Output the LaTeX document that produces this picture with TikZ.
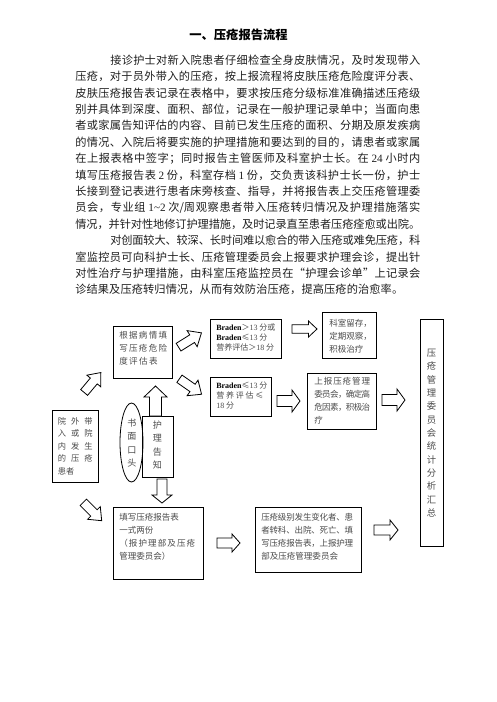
\documentclass[tikz,border=0pt]{standalone}
\usepackage{fontspec}
\setmainfont{Liberation Serif}
\newfontfamily\cjk{Noto Sans CJK SC}
\newfontfamily\lat{Liberation Serif}
\usetikzlibrary{shapes.geometric}
% inter-character glue for CJK so lines can be justified
\XeTeXinterchartokenstate=1
\newcount\cjkcc
\cjkcc="4E00
\loop \XeTeXcharclass\cjkcc=1 \advance\cjkcc by 1 \ifnum\cjkcc<"A000 \repeat
\XeTeXcharclass"FF0C=3 \XeTeXcharclass"3001=3 \XeTeXcharclass"3002=3
\XeTeXcharclass"FF1B=3 \XeTeXcharclass"FF09=3 \XeTeXcharclass"201D=3
\XeTeXcharclass"FF08=2 \XeTeXcharclass"201C=2
\XeTeXcharclass"FF1E=1 \XeTeXcharclass"2264=1
\newcommand\cjkglue{\hskip 0pt plus 3pt minus 0.6pt\relax}
\XeTeXinterchartoks 1 1 = {\cjkglue}
\XeTeXinterchartoks 1 3 = {\cjkglue}
\XeTeXinterchartoks 3 1 = {\cjkglue}
\XeTeXinterchartoks 2 1 = {\cjkglue}
\XeTeXinterchartoks 1 2 = {\cjkglue}
\XeTeXinterchartoks 3 2 = {\cjkglue}
\XeTeXinterchartoks 3 3 = {\cjkglue}
\newcommand\bodyf{\cjk\fontsize{8.4}{12.3}\selectfont}
\newcommand\boxf{\cjk\fontsize{6.4}{9.75}\selectfont}
\newcommand\jl[2]{\hbox to #1{#2}}
\newcommand\nl[1]{\hbox{#1}}
\newcommand\blockarr[7]{%
  \draw[arr, shift={(#1,#2)}, rotate=#3]
    (-#4/2,-#5) -- (#4/2-#7,-#5) -- (#4/2-#7,-#6) -- (#4/2,0)
    -- (#4/2-#7,#6) -- (#4/2-#7,#5) -- (-#4/2,#5) -- cycle;}
\begin{document}
\begin{tikzpicture}[x=0.75pt,y=-0.75pt,
  bx/.style 2 args={draw=black, line width=0.6pt, minimum width=#1, minimum height=#2, inner sep=0pt, outer sep=0pt},
  bt/.style={font=\boxf, text=black!70, inner sep=0pt, anchor=base west},
  vt/.style={inner sep=0pt, anchor=base, text=black!70},
  arr/.style={draw=black, line width=0.6pt, fill=white, line join=miter}]
\fill[white] (0,0) rectangle (496,702);
\useasboundingbox (0,0) rectangle (496,702);

% title
\node[font=\cjk\bfseries\fontsize{9.2}{11}\selectfont, text=black, inner sep=0pt] (title) at (238.5,35) {一、压疮报告流程};

% body paragraph
\node[font=\bodyf, text=black!88, inner sep=0pt, anchor=base west] (para) at (75,64.3) {\vtop{\baselineskip=12.3pt
\jl{258.75pt}{\kern26.25pt 接诊护士对新入院患者仔细检查全身皮肤情况，及时发现带入}
\jl{258.75pt}{压疮，对于员外带入的压疮，按上报流程将皮肤压疮危险度评分表、}
\jl{258.75pt}{皮肤压疮报告表记录在表格中，要求按压疮分级标准准确描述压疮级}
\jl{258.75pt}{别并具体到深度、面积、部位，记录在一般护理记录单中；当面向患}
\jl{258.75pt}{者或家属告知评估的内容、目前已发生压疮的面积、分期及原发疾病}
\jl{258.75pt}{的情况、入院后将要实施的护理措施和要达到的目的，请患者或家属}
\jl{258.75pt}{在上报表格中签字；同时报告主管医师及科室护士长。在 {\lat 24} 小时内}
\jl{258.75pt}{填写压疮报告表 {\lat 2} 份，科室存档 {\lat 1} 份，交负责该科护士长一份，护士}
\jl{258.75pt}{长接到登记表进行患者床旁核查、指导，并将报告表上交压疮管理委}
\jl{258.75pt}{员会，专业组 {\lat 1\textasciitilde2} 次/周观察患者带入压疮转归情况及护理措施落实}
\jl{258.75pt}{情况，并针对性地修订护理措施，及时记录直至患者压疮痊愈或出院。}
\jl{258.75pt}{\kern26.25pt 对创面较大、较深、长时间难以愈合的带入压疮或难免压疮，科}
\jl{258.75pt}{室监控员可向科护士长、压疮管理委员会上报要求护理会诊，提出针}
\jl{258.75pt}{对性治疗与护理措施，由科室压疮监控员在“护理会诊单”上记录会}
\jl{246pt}{诊结果及压疮转归情况，从而有效防治压疮，提高压疮的治愈率。}}};

% boxes
\node[bx={44.25pt}{39pt}] (evalbox) at (142.5,352) {};
\node[bx={53.25pt}{29.25pt}] (bradhi) at (245.5,338.5) {};
\node[bx={40.5pt}{34.5pt}] (keep) at (349,335) {};
\node[bx={45.75pt}{29.25pt}] (bradlo) at (240.5,396.5) {};
\node[bx={51.75pt}{42pt}] (report) at (341.5,401) {};
\node[bx={17.25pt}{170.25pt}] (committee) at (431.5,432.5) {};
\node[bx={23.25pt}{45.75pt}] (notify) at (157.5,446.5) {};
\node[bx={34.5pt}{54pt}] (patient) at (75,446) {};
\node[bx={67.5pt}{54pt}] (form) at (158,543) {};
\node[bx={79.5pt}{48.75pt}] (change) at (308,539.5) {};
\node[draw=black, line width=0.6pt, ellipse, minimum width=17.25pt, minimum height=59.25pt, inner sep=0pt] (oral) at (131.5,442.5) {};

% box texts
\node[bt] (tA) at (119,338.2) {\vtop{\baselineskip=9.75pt
 \jl{36pt}{根据病情填}\jl{36pt}{写压疮危险}\jl{28.8pt}{度评估表}}};
\node[bt, font=\cjk\fontsize{6}{7.5}\selectfont] (tB) at (216,330) {\vtop{\baselineskip=7.5pt
 \nl{{\lat\bfseries\color{black}Braden}＞{\lat 13} 分或}
 \nl{{\lat\bfseries\color{black}Braden}≤{\lat 13} 分}
 \nl{营养评估＞{\lat 18} 分}}};
\node[bt] (tC) at (329,326.2) {\vtop{\baselineskip=9.75pt
 \nl{科室留存，}\nl{定期观察，}\nl{积极治疗}}};
\node[bt, font=\cjk\fontsize{6}{7.5}\selectfont] (tD) at (216,388) {\vtop{\baselineskip=7.5pt
 \nl{{\lat\bfseries\color{black}Braden}≤{\lat 13} 分}
 \jl{35.25pt}{营养评估≤}
 \nl{{\lat 18} 分}}};
\node[bt] (tE) at (314,384.2) {\vtop{\baselineskip=9.75pt
 \jl{42pt}{上报压疮管理}\jl{42pt}{委员会，确定高}\jl{42pt}{危因素，积极治}\nl{疗}}};
\node[vt, font=\cjk\fontsize{7}{10}\selectfont] (tF) at (431.5,356.5) {\vtop{\baselineskip=10pt
 \nl{压}\nl{疮}\nl{管}\nl{理}\nl{委}\nl{员}\nl{会}\nl{统}\nl{计}\nl{分}\nl{析}\nl{汇}\nl{总}}};
\node[vt, font=\cjk\fontsize{6.8}{10.1}\selectfont] (tG) at (157.5,428.5) {\vtop{\baselineskip=10.1pt
 \nl{护}\nl{理}\nl{告}\nl{知}}};
\node[vt, font=\cjk\fontsize{6.8}{10.1}\selectfont] (tOral) at (132,426.5) {\vtop{\baselineskip=10.1pt
 \nl{书}\nl{面}\nl{口}\nl{头}}};
\node[bt, font=\cjk\fontsize{6.2}{9.4}\selectfont] (tH) at (57.5,424) {\vtop{\baselineskip=9.4pt
 \jl{26.25pt}{院外带}\jl{26.25pt}{入或院}\jl{26.25pt}{内发生}\jl{26.25pt}{的压疮}\nl{患者}}};
\node[bt] (tI) at (119,520.2) {\vtop{\baselineskip=9.75pt
 \nl{填写压疮报告表}\nl{一式两份}\jl{57pt}{（报护理部及压疮}\nl{管理委员会）}}};
\node[bt] (tJ) at (261,520.2) {\vtop{\baselineskip=9.85pt
 \jl{69pt}{压疮级别发生变化者、患}\jl{69pt}{者转科、出院、死亡、填}\jl{69pt}{写压疮报告表，上报护理}\nl{部及压疮管理委员会}}};

% block arrows: cx, cy, angle, length, shaft half, head half, head length
\blockarr{92.5}{382.5}{50}{26}{4.5}{9}{11}
\blockarr{190}{340}{32}{27}{4.5}{9.5}{11}
\blockarr{190.5}{386.5}{-35}{27}{4.5}{9.5}{11}
\blockarr{155.5}{401}{90}{30}{6}{11.5}{11}
\blockarr{162}{491}{-90}{24}{5}{10}{8}
\blockarr{92.5}{511.5}{-45}{26}{4.5}{9}{11}
\blockarr{304.5}{329}{0}{25}{4.3}{8}{8.5}
\blockarr{288.5}{401}{0}{23}{5.5}{11}{8}
\blockarr{393.5}{400}{0}{23}{5.5}{11}{8}
\blockarr{228.5}{543}{0}{23}{5}{9}{8}
\blockarr{386}{530}{0}{24}{5}{10}{8}
\end{tikzpicture}
\end{document}
